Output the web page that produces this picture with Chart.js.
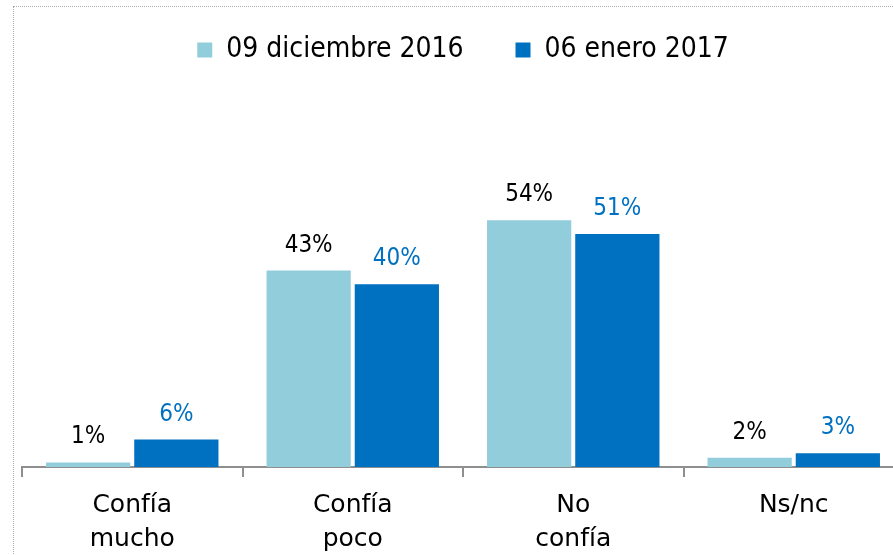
<!DOCTYPE html>
<html>
<head>
<meta charset="utf-8">
<script src="https://cdn.jsdelivr.net/npm/chart.js@4.4.1/dist/chart.umd.min.js"></script>
<style>
  html, body { margin: 0; padding: 0; background: #fff; overflow: hidden; }
  #wrap { position: relative; width: 893px; height: 555px; overflow: hidden; }
  #frame { position: absolute; left: 13px; top: 6px; width: 1000px; height: 1000px; border: 1px dotted #aaaaaa; }
  #chart { position: absolute; left: 0; top: 0; }
</style>
</head>
<body>
<div id="wrap">
  <div id="frame"></div>
  <canvas id="chart" width="910" height="567"></canvas>
</div>
<script>
// categories and series
const categories = [['Confía', 'mucho'], ['Confía', 'poco'], ['No', 'confía'], 'Ns/nc'];
const seriesNames = ['09 diciembre 2016', '06 enero 2017'];
const dec2016 = [1, 43, 54, 2];
const jan2017 = [6, 40, 51, 3];

const lightBlue = '#92CDDC';
const darkBlue = '#0070C0';
const labelColors = ['#000000', '#0070C0'];
const condensed = "'DejaVu Sans Condensed', 'DejaVu Sans', sans-serif";
const regular = "'DejaVu Sans', sans-serif";

// draws the "43%" style labels above each bar
const barLabels = {
  id: 'barLabels',
  afterDatasetsDraw(chart) {
    const ctx = chart.ctx;
    ctx.save();
    ctx.font = '24px ' + condensed;
    ctx.textAlign = 'center';
    ctx.textBaseline = 'alphabetic';
    chart.data.datasets.forEach((ds, i) => {
      const meta = chart.getDatasetMeta(i);
      ctx.fillStyle = labelColors[i];
      meta.data.forEach((bar, j) => {
        ctx.fillText(ds.data[j] + '%', bar.x, bar.y - 19);
      });
    });
    ctx.restore();
  }
};

new Chart(document.getElementById('chart'), {
  type: 'bar',
  data: {
    labels: categories,
    datasets: [
      { label: seriesNames[0], data: dec2016, backgroundColor: lightBlue },
      { label: seriesNames[1], data: jan2017, backgroundColor: darkBlue }
    ]
  },
  options: {
    responsive: false,
    animation: false,
    layout: { padding: { top: -16, left: 22, right: 6, bottom: 0 } },
    datasets: {
      bar: { categoryPercentage: 0.8, barPercentage: 0.955 }
    },
    scales: {
      x: {
        grid: { drawOnChartArea: false, tickLength: 10, color: '#8f8f8f', lineWidth: 2, offset: true },
        border: { color: '#8f8f8f', width: 2 },
        ticks: {
          color: '#000',
          padding: 11,
          maxRotation: 0,
          font: { family: regular, size: 25, lineHeight: 1.36 }
        }
      },
      y: {
        display: false,
        min: 0,
        max: 86
      }
    },
    plugins: {
      legend: {
        position: 'top',
        labels: {
          color: '#000',
          boxWidth: 15,
          boxHeight: 15,
          padding: 52,
          font: { family: condensed, size: 28 }
        }
      },
      tooltip: { enabled: false }
    }
  },
  plugins: [barLabels]
});
</script>
</body>
</html>
